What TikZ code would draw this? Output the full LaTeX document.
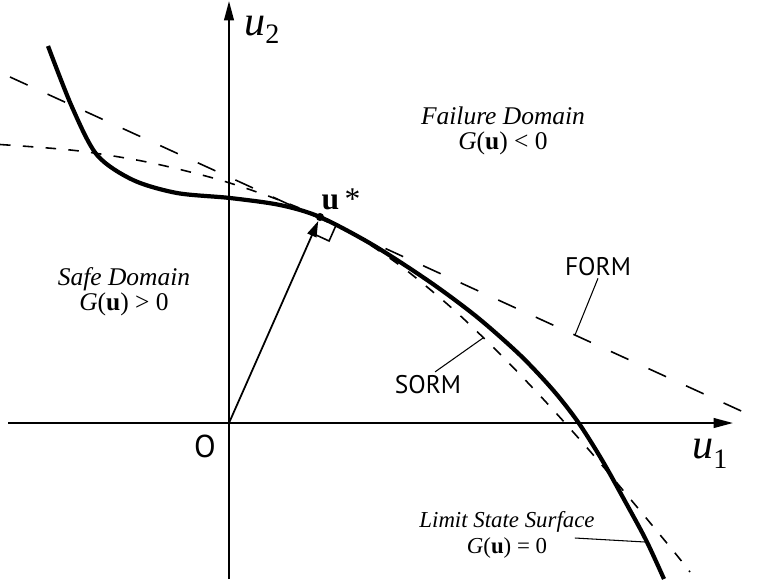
\documentclass[tikz,border=0pt]{standalone}
\usepackage{fontspec}
\setmainfont{Liberation Serif}
\newfontfamily\tagfont{PT Sans}
\usetikzlibrary{arrows.meta, calc}

\begin{document}
\begin{tikzpicture}[
  x=0.02cm, y=-0.02cm,
  axis/.style={line width=1.1pt, -{Triangle[length=11pt, width=5.5pt]}},
  vec/.style={line width=1pt, -{Triangle[length=9pt, width=5.5pt]}, shorten >=2.5pt},
  limitline/.style={line width=2.4pt, line join=round},
  formline/.style={line width=0.9pt, dash pattern=on 11pt off 12.5pt},
  sormline/.style={line width=0.9pt, dash pattern=on 6pt off 7pt},
  leader/.style={line width=0.6pt},
  domainlabel/.style={font=\fontsize{14.5}{14}\selectfont\itshape, align=center, inner sep=0pt},
  tag/.style={font=\fontsize{14.5}{16}\selectfont\tagfont, inner sep=1.5pt},
  axlabel/.style={font=\fontsize{24}{26}\selectfont, inner sep=0pt}
]
  \useasboundingbox (0,0) rectangle (770,579);
  \coordinate (O) at (229,423);
  \coordinate (ustar) at (320,217);
  \coordinate (formA) at (10,77);
  \coordinate (formB) at (750,415);

  \draw[axis] (8,423) -- (733,423);
  \draw[axis] (229,579) -- (229,1);

  \draw[formline] (formA) -- (formB);
  \draw[sormline] plot[smooth] coordinates {(0,144.5) (76,150.6) (147.5,162.1) (216.6,179) (273.7,198) (320,217) (364,241) (406,270) (454,310) (500,354) (545,401) (589,450) (632,501) (675,553) (690,572)};
  \draw[limitline] plot[smooth] coordinates {(48,46) (72,107) (97,155) (133,180) (177,193) (230,198) (280,205) (320,217) (373,245) (430,282) (477,317) (520,355) (553,390) (578,422) (602,460) (626,503) (646,540) (664,579)};

  \draw[vec] (O) -- (ustar);
  \coordinate (sq1) at ($(ustar)!0.36cm!(O)$);
  \coordinate (sq3) at ($(ustar)!0.36cm!(formB)$);
  \draw[line width=0.9pt] (sq1) -- ($(sq1)+(sq3)-(ustar)$) -- (sq3);
  \fill (ustar) circle (2.3pt);

  \node[font=\fontsize{18}{20}\selectfont, inner sep=0pt] (ulabel) at (341,199) {\textbf{u}\,*};
  \node[axlabel, anchor=base west] (u2) at (244,35) {\textit{u}{\fontsize{16}{16}\selectfont\raisebox{-0.17cm}{2}}};
  \node[axlabel, anchor=base west] (u1) at (692,458) {\textit{u}{\fontsize{16}{16}\selectfont\raisebox{-0.2cm}{1}}};
  \node[tag, font=\fontsize{18}{20}\selectfont\tagfont, anchor=base] (origin) at (205,457) {O};

  \node[domainlabel] (failure) at (503,131) {Failure Domain\\{\upshape\textit{G}(\textbf{u}) < 0}};
  \node[domainlabel] (safe) at (124,292) {Safe Domain\\{\upshape\textit{G}(\textbf{u}) > 0}};
  \node[domainlabel, font=\fontsize{13}{15}\selectfont\itshape] (lss) at (507,535) {Limit State Surface\\{\upshape\textit{G}(\textbf{u}) = 0}};

  \node[tag, anchor=base] (form) at (598,275) {FORM};
  \node[tag, anchor=base] (sorm) at (428,393) {SORM};

  \coordinate (formpt) at (575,335);
  \coordinate (sormpt) at (483,338);
  \coordinate (lsspt) at (645,542);
  \draw[leader] (form.south) -- (formpt);
  \draw[leader] (sorm.60) -- (sormpt);
  \draw[leader] ([shift={(-20,3)}]lss.east) -- (lsspt);
\end{tikzpicture}
\end{document}
